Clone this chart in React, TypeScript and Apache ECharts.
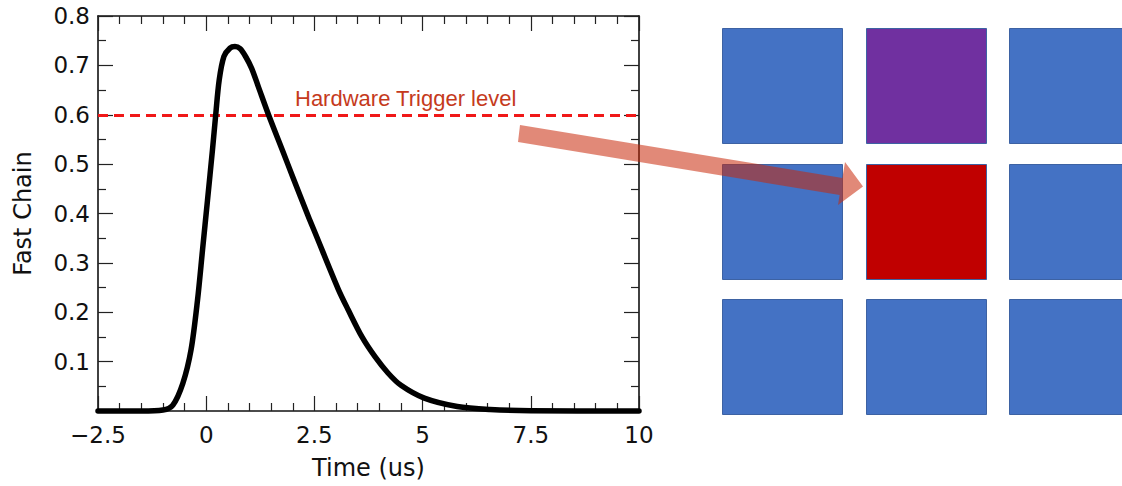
import React, { useEffect, useRef } from "react";
import * as echarts from "echarts";

// ---- data ----
const timeUs = [
  -2.5, -1.5, -1.0, -0.77, -0.54, -0.35, -0.2, -0.085, 0.03, 0.145, 0.22, 0.3,
  0.41, 0.55, 0.665, 0.78, 0.91, 1.05, 1.2, 1.44, 1.77, 2.0, 2.36, 2.52, 3.05,
  3.28, 3.6, 3.9, 4.2, 4.5, 5.04, 5.8, 6.56, 7.5, 10,
];
const fastChain = [
  0, 0, 0.002, 0.012, 0.056, 0.124, 0.225, 0.326, 0.427, 0.529, 0.6, 0.67,
  0.718, 0.735, 0.738, 0.734, 0.718, 0.694, 0.658, 0.6, 0.526, 0.474, 0.394,
  0.36, 0.247, 0.205, 0.15, 0.11, 0.077, 0.052, 0.026, 0.009, 0.003, 0.0005, 0,
];
const triggerLevel = 0.6;
const triggerLabel = "Hardware Trigger level";
const xAxisName = "Time (us)";
const yAxisName = "Fast Chain";
const cellColors = [
  "#4472C4", "#7030A0", "#4472C4",
  "#4472C4", "#C00000", "#4472C4",
  "#4472C4", "#4472C4", "#4472C4",
];

const FONT = "DejaVu Sans";

export default function App() {
  const ref = useRef<HTMLDivElement>(null);
  useEffect(() => {
    if (!ref.current) return;
    const chart = echarts.init(ref.current, null, { renderer: "svg" });

    const colLefts = [722, 866, 1009];
    const rowTops = [28, 164, 299];
    const cells: any[] = cellColors.map((c, i) => ({
      type: "rect",
      z: 50,
      shape: {
        x: colLefts[i % 3] + 0.5,
        y: rowTops[Math.floor(i / 3)] + 0.5,
        width: 120,
        height: 115,
      },
      style: { fill: c, stroke: "#3d62a3", lineWidth: 1 },
    }));

    const arrow = {
      type: "polygon",
      z: 60,
      shape: {
        points: [
          [520, 125],
          [842.4, 178],
          [845, 162],
          [863, 186.5],
          [838, 205],
          [839.6, 195],
          [518, 142],
        ],
      },
      style: { fill: "rgba(200,40,10,0.55)" },
    };

    const triggerText = {
      type: "text",
      z: 60,
      x: 295,
      y: 98,
      style: {
        text: triggerLabel,
        fontSize: 22,
        fontFamily: "Liberation Sans",
        fill: "#c53a1c",
        align: "left",
        verticalAlign: "middle",
      },
    };

    const fmtX = (v: number) => (v < 0 ? "\u2212" + Math.abs(v) : String(v));
    const fmtY = (v: number) => (Math.abs(v) < 1e-9 ? "" : v.toFixed(1));

    const tickCommon = {
      axisLine: { show: true, onZero: false, lineStyle: { color: "#111", width: 1.6 } },
      axisTick: { show: true, inside: true, length: 15, lineStyle: { color: "#222", width: 1.2 } },
      minorTick: { show: true, length: 8, lineStyle: { color: "#222", width: 1.2 } },
      splitLine: { show: false },
      minorSplitLine: { show: false },
    };

    const option: any = {
      animation: false,
      backgroundColor: "#ffffff",
      grid: { left: 98, top: 16, width: 541, height: 395, containLabel: false },
      xAxis: [
        {
          type: "value",
          min: -2.5,
          max: 10,
          interval: 2.5,
          position: "bottom",
          name: xAxisName,
          nameLocation: "middle",
          nameGap: 45,
          nameTextStyle: { fontSize: 24, fontFamily: FONT, color: "#111" },
          ...tickCommon,
          minorTick: { ...tickCommon.minorTick, splitNumber: 5 },
          axisLabel: {
            formatter: fmtX,
            fontSize: 23,
            fontFamily: FONT,
            color: "#111",
            margin: 12,
            showMinLabel: true,
            showMaxLabel: true,
          },
        },
        {
          type: "value",
          min: -2.5,
          max: 10,
          interval: 2.5,
          position: "top",
          ...tickCommon,
          minorTick: { ...tickCommon.minorTick, splitNumber: 5 },
          axisLabel: { show: false },
        },
      ],
      yAxis: [
        {
          type: "value",
          min: 0,
          max: 0.8,
          interval: 0.1,
          position: "left",
          name: yAxisName,
          nameLocation: "middle",
          nameGap: 63,
          nameRotate: 90,
          nameTextStyle: { fontSize: 24, fontFamily: FONT, color: "#111" },
          ...tickCommon,
          minorTick: { ...tickCommon.minorTick, splitNumber: 2 },
          axisLabel: {
            formatter: fmtY,
            fontSize: 23,
            fontFamily: FONT,
            color: "#111",
            margin: 8,
          },
        },
        {
          type: "value",
          min: 0,
          max: 0.8,
          interval: 0.1,
          position: "right",
          ...tickCommon,
          minorTick: { ...tickCommon.minorTick, splitNumber: 2 },
          axisLabel: { show: false },
        },
      ],
      series: [
        {
          type: "line",
          xAxisIndex: 0,
          yAxisIndex: 0,
          data: timeUs.map((t, i) => [t, fastChain[i]]),
          showSymbol: false,
          smooth: 0.3,
          clip: false,
          z: 5,
          lineStyle: { color: "#000", width: 5.5, cap: "round", join: "round" },
          markLine: {
            silent: true,
            symbol: ["none", "none"],
            label: { show: false },
            lineStyle: { color: "#f01818", width: 3, type: [10, 6] },
            data: [{ yAxis: triggerLevel }],
          },
        },
      ],
      graphic: [...cells, arrow, triggerText],
    };

    chart.setOption(option);
    return () => chart.dispose();
  }, []);

  return (
    <div
      ref={ref}
      style={{ position: "absolute", left: 0, top: 0, width: 1122, height: 486 }}
    />
  );
}
